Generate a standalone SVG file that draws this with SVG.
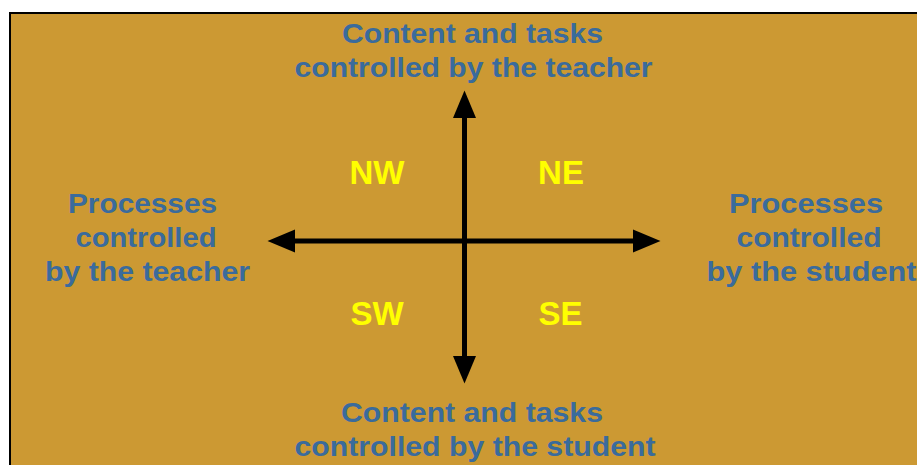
<svg xmlns="http://www.w3.org/2000/svg" width="917" height="465" viewBox="0 0 917 465">
<style>
.lbl{font-family:"Liberation Sans",Arial,sans-serif;font-weight:bold;font-size:27.5px;fill:#3A6B9C}
.q{font-family:"Liberation Sans",Arial,sans-serif;font-weight:bold;font-size:33px;fill:#FFFF00;text-anchor:middle}
.axis{stroke:#000;stroke-width:5;fill:none}
</style>
<defs>
<marker id="head" markerUnits="userSpaceOnUse" markerWidth="30" markerHeight="26" viewBox="0 -13 30 26" refX="0" refY="0" orient="auto-start-reverse">
<path d="M0,-11.5 L27.5,0 L0,11.5 Z" fill="#000"/>
</marker>
</defs>
<rect x="10" y="13" width="920" height="460" fill="#CC9933" stroke="#000" stroke-width="2"/>
<g id="connectors">
<line class="axis" x1="464.5" y1="118" x2="464.5" y2="356" marker-start="url(#head)" marker-end="url(#head)"/>
<line class="axis" x1="295" y1="241" x2="633" y2="241" marker-start="url(#head)" marker-end="url(#head)"/>
</g>
<g id="top">
<text class="lbl" x="342" y="42.5" textLength="261" lengthAdjust="spacingAndGlyphs">Content and tasks</text>
<text class="lbl" x="294.5" y="77" textLength="358" lengthAdjust="spacingAndGlyphs">controlled by the teacher</text>
</g>
<g id="bottom">
<text class="lbl" x="341" y="421.5" textLength="262" lengthAdjust="spacingAndGlyphs">Content and tasks</text>
<text class="lbl" x="294.5" y="456" textLength="361" lengthAdjust="spacingAndGlyphs">controlled by the student</text>
</g>
<g id="left">
<text class="lbl" x="68" y="212.5" textLength="149" lengthAdjust="spacingAndGlyphs">Processes</text>
<text class="lbl" x="75.5" y="247" textLength="141" lengthAdjust="spacingAndGlyphs">controlled</text>
<text class="lbl" x="45" y="281" textLength="205" lengthAdjust="spacingAndGlyphs">by the teacher</text>
</g>
<g id="right">
<text class="lbl" x="729" y="212.5" textLength="154" lengthAdjust="spacingAndGlyphs">Processes</text>
<text class="lbl" x="736.5" y="247" textLength="145" lengthAdjust="spacingAndGlyphs">controlled</text>
<text class="lbl" x="706.5" y="281" textLength="210" lengthAdjust="spacingAndGlyphs">by the student</text>
</g>
<g id="nw"><text class="q" x="377" y="183.5">NW</text></g>
<g id="ne"><text class="q" x="561" y="183.5">NE</text></g>
<g id="sw"><text class="q" x="377" y="325">SW</text></g>
<g id="se"><text class="q" x="560.5" y="325">SE</text></g>
</svg>
